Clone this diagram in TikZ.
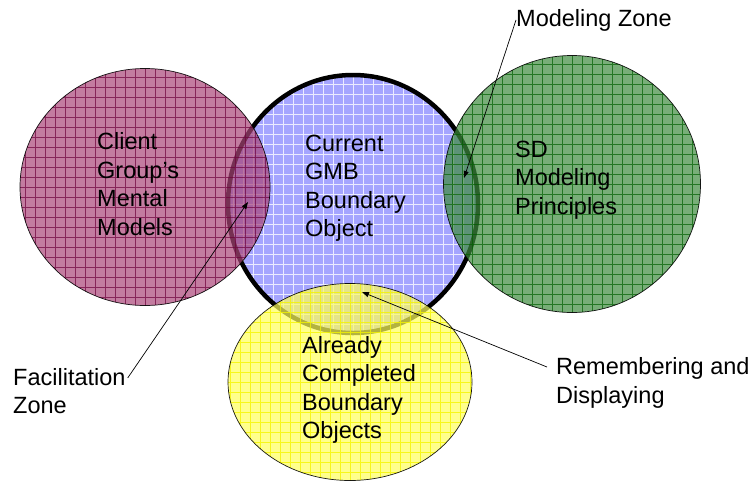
\documentclass[tikz,border=0pt]{standalone}
\usepackage{fontspec}
\setmainfont{Liberation Sans}
\usetikzlibrary{shapes.geometric,arrows.meta,positioning}

\definecolor{clientfill}{RGB}{169,69,119}
\definecolor{clientgrid}{RGB}{110,0,60}
\definecolor{gmbfill}{RGB}{165,165,255}
\definecolor{gmbgrid}{RGB}{235,235,255}
\definecolor{sdfill}{RGB}{62,140,62}
\definecolor{sdgrid}{RGB}{0,95,0}
\definecolor{donefill}{RGB}{255,255,91}
\definecolor{donegrid}{RGB}{245,245,0}

\tikzset{
    zone/.style={ellipse, inner sep=0pt, draw=black, line width=0.7pt},
    seethru/.style={fill opacity=0.7, draw opacity=0.9},
    gridfill/.style={path picture={
        \draw[#1, line width=0.6pt] (path picture bounding box.south west)
            grid[step=10pt] (path picture bounding box.north east);}},
    txt/.style={align=left, inner sep=0pt, anchor=west},
    pointer/.style={-{Triangle[length=7pt,width=5pt]}, line width=0.7pt},
}

\begin{document}
\begin{tikzpicture}[x=1pt, y=-1pt, font=\fontsize{23.5}{28.5}\selectfont]
    \useasboundingbox (0,0) rectangle (754,485);

    % the boundary object we are working on
    \node[zone, fill=gmbfill, gridfill={gmbgrid}, line width=4.5pt,
          minimum width=250pt, minimum height=258pt] (gmb) at (353,204) {};

    % the three surrounding zones
    \node[zone, seethru, fill=clientfill, gridfill={clientgrid, draw opacity=0.7},
          minimum width=250pt, minimum height=237pt] (client) at (145,187) {};
    \node[zone, seethru, fill=sdfill, gridfill={sdgrid, draw opacity=0.7},
          minimum width=257pt, minimum height=257pt] (sd) at (572,184) {};
    \node[zone, seethru, fill=donefill, gridfill={donegrid, draw opacity=0.8},
          minimum width=244pt, minimum height=197pt] (done) at (350,382) {};

    % circle texts
    \node[txt] (clienttxt) at (97,184) {Client\\Group's\\Mental\\Models};
    \node[txt] (gmbtxt) at (305,188) {Current\\GMB\\Boundary\\Object};
    \node[txt] (sdtxt) at (515,180) {SD\\Modeling\\Principles};
    \node[txt] (donetxt) at (302,390) {Already\\Completed\\Boundary\\Objects};

    % zone labels
    \node[txt] (mz) at (516,20) {Modeling Zone};
    \node[txt] (facil) at (13,391) {Facilitation\\Zone};
    \node[txt] (remdisp) at (556,383) {Remembering and\\Displaying};

    \coordinate (mz tip) at (464,178);
    \coordinate (facil tip) at (248,202);
    \coordinate (remdisp tip) at (362,292);

    \draw[pointer] (mz.west) -- (mz tip);
    \draw[pointer] ([shift={(2,10)}]facil.north east) -- (facil tip);
    \draw[pointer] ([shift={(-9,-16)}]remdisp.west) -- (remdisp tip);
\end{tikzpicture}
\end{document}
